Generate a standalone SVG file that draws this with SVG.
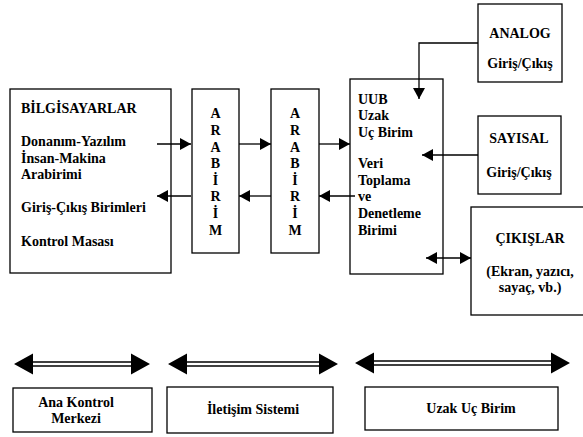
<svg xmlns="http://www.w3.org/2000/svg" width="583" height="437" viewBox="0 0 583 437">
<defs>
<style>
.box{fill:#fff;stroke:#000;stroke-width:1.3}
.ln{fill:none;stroke:#000;stroke-width:1.3}
.dl{fill:none;stroke:#000;stroke-width:1.4}
text{font-family:'Times New Roman','Liberation Serif','DejaVu Serif',serif;font-weight:bold;font-size:14px;fill:#000}
.c{text-anchor:middle}
</style>
<marker id="ah" markerWidth="11" markerHeight="12" refX="11" refY="6" orient="auto" markerUnits="userSpaceOnUse">
<path d="M0,0 L11,6 L0,12 z" fill="#000"/>
</marker>
<marker id="ahs" markerWidth="11" markerHeight="12" refX="0" refY="6" orient="auto" markerUnits="userSpaceOnUse">
<path d="M11,0 L0,6 L11,12 z" fill="#000"/>
</marker>
</defs>
<rect width="583" height="437" fill="#fff"/>

<g id="bilgisayarlar">
<rect class="box" x="10" y="89" width="161" height="184"/>
<text x="21" y="113">BİLGİSAYARLAR</text>
<text x="21" y="146">Donanım-Yazılım</text>
<text x="21" y="163">İnsan-Makina</text>
<text x="21" y="179">Arabirimi</text>
<text x="21" y="212">Giriş-Çıkış Birimleri</text>
<text x="21" y="246">Kontrol Masası</text>
</g>

<g id="arabirim1">
<rect class="box" x="192" y="89" width="47" height="164"/>
<text class="c" x="215.5" y="118">A</text>
<text class="c" x="215.5" y="135">R</text>
<text class="c" x="215.5" y="152">A</text>
<text class="c" x="215.5" y="168">B</text>
<text class="c" x="215.5" y="185">İ</text>
<text class="c" x="215.5" y="201">R</text>
<text class="c" x="215.5" y="218">İ</text>
<text class="c" x="215.5" y="235">M</text>
</g>

<g id="arabirim2">
<rect class="box" x="271" y="89" width="48" height="164"/>
<text class="c" x="295" y="118">A</text>
<text class="c" x="295" y="135">R</text>
<text class="c" x="295" y="152">A</text>
<text class="c" x="295" y="168">B</text>
<text class="c" x="295" y="185">İ</text>
<text class="c" x="295" y="201">R</text>
<text class="c" x="295" y="218">İ</text>
<text class="c" x="295" y="235">M</text>
</g>

<g id="uub">
<rect class="box" x="350" y="79" width="93" height="195"/>
<text x="358" y="104">UUB</text>
<text x="358" y="120">Uzak</text>
<text x="358" y="137">Uç Birim</text>
<text x="358" y="168">Veri</text>
<text x="358" y="185">Toplama</text>
<text x="358" y="201">ve</text>
<text x="358" y="218">Denetleme</text>
<text x="358" y="235">Birimi</text>
</g>

<g id="analog">
<rect class="box" x="478" y="4" width="84" height="78"/>
<text class="c" x="520" y="38">ANALOG</text>
<text class="c" x="520" y="68">Giriş/Çıkış</text>
</g>

<g id="sayisal">
<rect class="box" x="478" y="116" width="83" height="78"/>
<text class="c" x="519" y="143">SAYISAL</text>
<text class="c" x="519" y="177">Giriş/Çıkış</text>
</g>

<g id="cikislar">
<rect class="box" x="471" y="207" width="116" height="108"/>
<text class="c" x="530" y="243">ÇIKIŞLAR</text>
<text class="c" x="530" y="276">(Ekran, yazıcı,</text>
<text class="c" x="530" y="292">sayaç, vb.)</text>
</g>

<g id="ana-kontrol">
<rect class="box" x="13" y="388" width="139" height="44"/>
<text class="c" x="76" y="407">Ana Kontrol</text>
<text class="c" x="76" y="423">Merkezi</text>
</g>

<g id="iletisim">
<rect class="box" x="167" y="387" width="166" height="46"/>
<text class="c" x="253" y="414">İletişim Sistemi</text>
</g>

<g id="uzak-uc">
<rect class="box" x="365" y="387" width="193" height="43"/>
<text class="c" x="471" y="413">Uzak Uç Birim</text>
</g>

<g id="connectors">
<line class="ln" x1="157" y1="144" x2="191" y2="144" marker-end="url(#ah)"/>
<line class="ln" x1="191" y1="196" x2="157" y2="196" marker-end="url(#ah)"/>
<line class="ln" x1="239" y1="144" x2="271" y2="144" marker-end="url(#ah)"/>
<line class="ln" x1="271" y1="196" x2="239" y2="196" marker-end="url(#ah)"/>
<line class="ln" x1="319" y1="144" x2="350" y2="144" marker-end="url(#ah)"/>
<line class="ln" x1="355" y1="196" x2="319" y2="196" marker-end="url(#ah)"/>
<polyline class="ln" points="478,43 419,43 419,99" marker-end="url(#ah)"/>
<line class="ln" x1="478" y1="155" x2="422" y2="155" marker-end="url(#ah)"/>
<line class="ln" x1="426" y1="258" x2="471" y2="258" marker-start="url(#ahs)" marker-end="url(#ah)"/>

<line class="dl" x1="32" y1="362" x2="132" y2="362"/>
<line class="dl" x1="32" y1="366" x2="132" y2="366"/>
<path d="M14,364 L33,353.5 L33,374.5 z M150,364 L131,353.5 L131,374.5 z"/>

<line class="dl" x1="186" y1="362" x2="320" y2="362"/>
<line class="dl" x1="186" y1="366" x2="320" y2="366"/>
<path d="M168,364 L187,353.5 L187,374.5 z M338,364 L319,353.5 L319,374.5 z"/>

<line class="dl" x1="373" y1="361" x2="552" y2="361"/>
<line class="dl" x1="373" y1="365" x2="552" y2="365"/>
<path d="M355,363 L374,352.5 L374,373.5 z M570,363 L551,352.5 L551,373.5 z"/>
</g>
</svg>
